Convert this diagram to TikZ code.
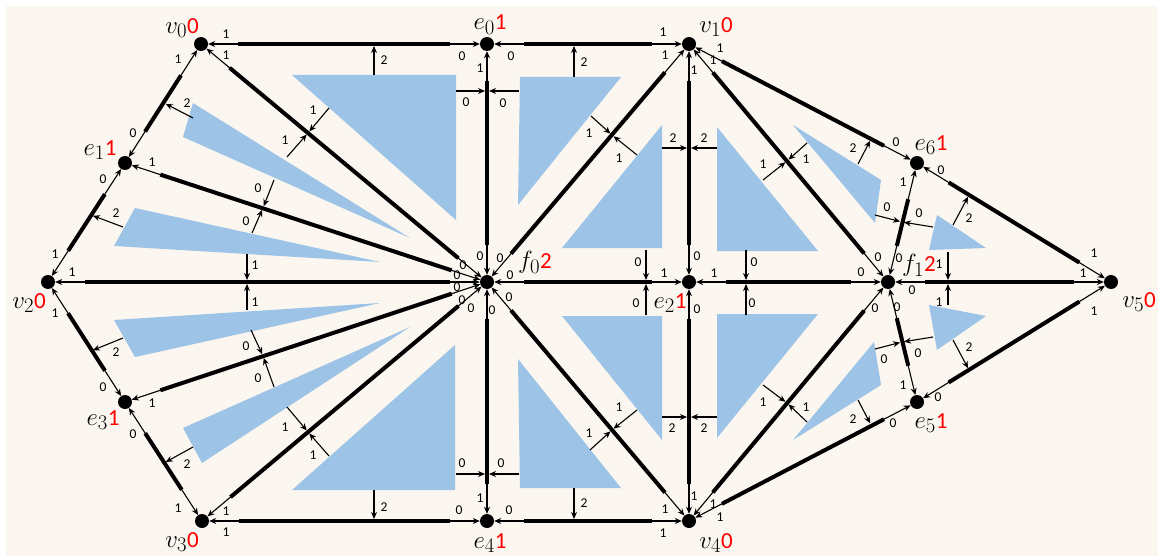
\documentclass[tikz,border=0pt]{standalone}
\usepackage{fontspec}
\newfontfamily\carl{Carlito}
\usetikzlibrary{arrows.meta}
\definecolor{paper}{RGB}{251,247,240}
\definecolor{face}{RGB}{157,195,230}
\newcommand\rd[1]{\textcolor{red}{\carl\fontsize{23}{23}\selectfont #1}}
\begin{document}
\begin{tikzpicture}[x=1pt,y=-1pt,>={Stealth[length=7pt,width=6pt]},
 dot/.style={circle,fill,inner sep=0pt,minimum size=14pt},
 lnk/.style={<->,line width=1.1pt,preaction={draw,-,line width=4pt,shorten <=30pt,shorten >=30pt}},
 tick/.style={->,line width=1.1pt,shorten >=2pt},
 lb/.style={font=\carl\fontsize{13.5}{13.5}\selectfont,inner sep=0pt},
 nl/.style={font=\fontsize{24.88}{25}\selectfont,inner sep=0pt}]
\useasboundingbox (0,0) rectangle (1158,556);
\fill[paper] (6,6) rectangle (1158,556);
% faces
\fill[face] (292,75) -- (456,75) -- (456,220) -- cycle;
\fill[face] (520,77) -- (621,77) -- (518,205) -- cycle;
\fill[face] (662,125) -- (662,248) -- (562,248) -- cycle;
\fill[face] (562,316) -- (662,316) -- (662,440) -- cycle;
\fill[face] (518,359) -- (520,488) -- (621,488) -- cycle;
\fill[face] (292,490) -- (455,490) -- (455,345) -- cycle;
\fill[face] (193,103) -- (183,137) -- (410,238) -- cycle;
\fill[face] (135,208) -- (114,246) -- (380,262) -- cycle;
\fill[face] (114,320) -- (135,357) -- (380,303) -- cycle;
\fill[face] (183,428) -- (202,463) -- (410,327) -- cycle;
\fill[face] (717,127) -- (717,251) -- (818,251) -- cycle;
\fill[face] (717,314) -- (818,314) -- (717,438) -- cycle;
\fill[face] (793,125) -- (881,180) -- (875,223) -- cycle;
\fill[face] (937,215) -- (986,248) -- (929,250) -- cycle;
\fill[face] (929,305) -- (986,316) -- (937,350) -- cycle;
\fill[face] (874,342) -- (881,385) -- (793,440) -- cycle;
% vertices
\node[dot] (v0) at (201,44) {};
\node[dot] (e0) at (487,44) {};
\node[dot] (v1) at (689,44) {};
\node[dot] (e1) at (125,163) {};
\node[dot] (e6) at (917,163) {};
\node[dot] (v2) at (48,282) {};
\node[dot] (f0) at (487,282) {};
\node[dot] (e2) at (689,282) {};
\node[dot] (f1) at (888,282) {};
\node[dot] (v5) at (1111,282) {};
\node[dot] (e3) at (125,402) {};
\node[dot] (e5) at (917,402) {};
\node[dot] (v3) at (202,521) {};
\node[dot] (e4) at (487,521) {};
\node[dot] (v4) at (689,521) {};
\node[nl] (v0t) at (182,28) {$v_0$\rd{0}};
\node[nl] (e0t) at (490,25) {$e_0$\rd{1}};
\node[nl] (v1t) at (716,27) {$v_1$\rd{0}};
\node[nl] (e1t) at (100,150) {$e_1$\rd{1}};
\node[nl] (e6t) at (931,145) {$e_6$\rd{1}};
\node[nl] (v2t) at (29,303) {$v_2$\rd{0}};
\node[nl] (f0t) at (535,262) {$f_0$\rd{2}};
\node[nl] (e2t) at (670,303) {$e_2$\rd{1}};
\node[nl] (f1t) at (919,265) {$f_1$\rd{2}};
\node[nl] (v5t) at (1139,302) {$v_5$\rd{0}};
\node[nl] (e3t) at (103,420) {$e_3$\rd{1}};
\node[nl] (e5t) at (931,423) {$e_5$\rd{1}};
\node[nl] (v3t) at (182,542) {$v_3$\rd{0}};
\node[nl] (e4t) at (490,543) {$e_4$\rd{1}};
\node[nl] (v4t) at (716,543) {$v_4$\rd{0}};
% edges
\draw[lnk] (v0) -- (e0) node[lb] at (226,34) {1} node[lb] at (462,56) {0};
\draw[lnk] (e0) -- (v1) node[lb] at (511,56) {0} node[lb] at (663,32) {1};
\draw[lnk] (v0) -- (e1) node[lb] at (178,59) {1} node[lb] at (133,133) {0};
\draw[lnk] (e1) -- (v2) node[lb] at (103,179) {0} node[lb] at (55,254) {1};
\draw[lnk] (v2) -- (e3) node[lb] at (55,313) {1} node[lb] at (103,387) {0};
\draw[lnk] (e3) -- (v3) node[lb] at (133,434) {0} node[lb] at (178,508) {1};
\draw[lnk] (v3) -- (e4) node[lb] at (226,532) {1} node[lb] at (459,510) {0};
\draw[lnk] (e4) -- (v4) node[lb] at (509,510) {0} node[lb] at (663,533) {1};
\draw[lnk] (v0) -- (f0) node[lb] at (226,55) {1} node[lb] at (463,265) {0};
\draw[lnk] (e1) -- (f0) node[lb] at (152,162) {1} node[lb] at (457,275) {0};
\draw[lnk] (v2) -- (f0) node[lb] at (72,272) {1} node[lb] at (457,287) {0};
\draw[lnk] (e3) -- (f0) node[lb] at (152,403) {1} node[lb] at (462,300) {0};
\draw[lnk] (v3) -- (f0) node[lb] at (226,511) {1} node[lb] at (471,308) {0};
\draw[lnk] (e0) -- (f0) node[lb] at (480,68) {1} node[lb] at (480,256) {0};
\draw[lnk] (e4) -- (f0) node[lb] at (480,498) {1} node[lb] at (492,310) {0};
\draw[lnk] (v1) -- (f0) node[lb] at (665,55) {1} node[lb] at (500,258) {0};
\draw[lnk] (v4) -- (f0) node[lb] at (665,509) {1} node[lb] at (509,297) {0};
\draw[lnk] (f0) -- (e2) node[lb] at (510,275) {0} node[lb] at (664,273) {1};
\draw[lnk] (v1) -- (e2) node[lb] at (694,70) {1} node[lb] at (697,256) {0};
\draw[lnk] (e2) -- (v4) node[lb] at (697,309) {0} node[lb] at (694,496) {1};
\draw[lnk] (e2) -- (f1) node[lb] at (714,273) {1} node[lb] at (861,272) {0};
\draw[lnk] (v1) -- (f1) node[lb] at (713,60) {1} node[lb] at (878,257) {0};
\draw[lnk] (v4) -- (f1) node[lb] at (713,504) {1} node[lb] at (875,308) {0};
\draw[lnk] (v1) -- (e6) node[lb] at (720,48) {1} node[lb] at (896,142) {0};
\draw[lnk] (e6) -- (f1) node[lb] at (903,182) {1} node[lb] at (899,258) {0};
\draw[lnk] (e6) -- (v5) node[lb] at (941,170) {0} node[lb] at (1094,253) {1};
\draw[lnk] (f1) -- (v5) node[lb] at (912,290) {0} node[lb] at (1083,273) {1};
\draw[lnk] (f1) -- (e5) node[lb] at (897,307) {0} node[lb] at (903,385) {1};
\draw[lnk] (e5) -- (v5) node[lb] at (938,397) {0} node[lb] at (1094,311) {1};
\draw[lnk] (v4) -- (e5) node[lb] at (720,517) {1} node[lb] at (893,423) {0};
% face to edge arrows
\draw[tick] (374,75) -- (374,44) node[lb] at (384,60) {2};
\draw[tick] (329,108) -- (308,133) node[lb] at (313,110) {1};
\draw[tick] (456,91) -- (487,91) node[lb] at (466,102) {0};
\draw[tick] (574,77) -- (574,44) node[lb] at (584,62) {2};
\draw[tick] (591,116) -- (612,135) node[lb] at (589,133) {1};
\draw[tick] (519,91) -- (487,91) node[lb] at (503,103) {0};
\draw[tick] (637,155) -- (612,135) node[lb] at (619,158) {1};
\draw[tick] (662,148) -- (689,148) node[lb] at (673,138) {2};
\draw[tick] (646,250) -- (646,282) node[lb] at (638,262) {0};
\draw[tick] (646,315) -- (646,282) node[lb] at (636,303) {0};
\draw[tick] (662,417) -- (689,417) node[lb] at (672,428) {2};
\draw[tick] (637,410) -- (612,430) node[lb] at (619,407) {1};
\draw[tick] (574,488) -- (574,521) node[lb] at (584,503) {2};
\draw[tick] (590,450) -- (612,430) node[lb] at (589,433) {1};
\draw[tick] (519,474) -- (487,474) node[lb] at (501,463) {0};
\draw[tick] (374,490) -- (374,521) node[lb] at (384,507) {2};
\draw[tick] (329,456) -- (308,432) node[lb] at (313,455) {1};
\draw[tick] (456,474) -- (487,474) node[lb] at (462,463) {0};
\draw[tick] (193,118) -- (164,103) node[lb] at (187,103) {2};
\draw[tick] (287,157) -- (308,133) node[lb] at (285,140) {1};
\draw[tick] (274,180) -- (263,208) node[lb] at (258,188) {0};
\draw[tick] (123,227) -- (91,215) node[lb] at (116,213) {2};
\draw[tick] (252,233) -- (263,208) node[lb] at (246,221) {0};
\draw[tick] (247,254) -- (247,282) node[lb] at (255,265) {1};
\draw[tick] (247,310) -- (247,282) node[lb] at (255,302) {1};
\draw[tick] (123,338) -- (91,351) node[lb] at (116,352) {2};
\draw[tick] (251,330) -- (263,356) node[lb] at (246,346) {0};
\draw[tick] (193,447) -- (164,463) node[lb] at (187,464) {2};
\draw[tick] (274,387) -- (263,356) node[lb] at (258,378) {0};
\draw[tick] (287,407) -- (308,432) node[lb] at (285,427) {1};
\draw[tick] (717,148) -- (689,148) node[lb] at (704,138) {2};
\draw[tick] (763,180) -- (787,161) node[lb] at (763,164) {1};
\draw[tick] (746,250) -- (746,282) node[lb] at (754,262) {0};
\draw[tick] (746,315) -- (746,282) node[lb] at (752,303) {0};
\draw[tick] (717,417) -- (689,417) node[lb] at (704,428) {2};
\draw[tick] (763,385) -- (787,403) node[lb] at (763,402) {1};
\draw[tick] (807,143) -- (787,161) node[lb] at (806,159) {1};
\draw[tick] (858,164) -- (871,139) node[lb] at (853,148) {2};
\draw[tick] (875,215) -- (902,222) node[lb] at (887,207) {0};
\draw[tick] (953,225) -- (969,195) node[lb] at (969,218) {2};
\draw[tick] (933,227) -- (902,222) node[lb] at (919,213) {0};
\draw[tick] (948,252) -- (948,282) node[lb] at (939,264) {1};
\draw[tick] (948,305) -- (948,282) node[lb] at (939,302) {1};
\draw[tick] (953,340) -- (969,370) node[lb] at (969,347) {2};
\draw[tick] (933,337) -- (902,342) node[lb] at (918,353) {0};
\draw[tick] (807,422) -- (787,403) node[lb] at (806,407) {1};
\draw[tick] (858,400) -- (871,425) node[lb] at (853,419) {2};
\draw[tick] (875,349) -- (902,342) node[lb] at (884,359) {0};
\end{tikzpicture}
\end{document}
